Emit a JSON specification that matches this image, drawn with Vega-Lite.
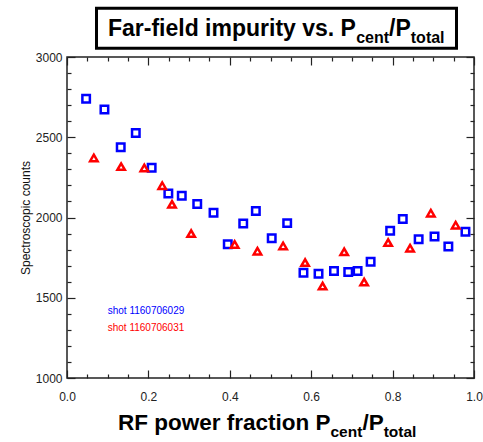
{
  "$schema": "https://vega.github.io/schema/vega-lite/v6.json",
  "width": 407,
  "height": 321,
  "autosize": {"type": "none"},
  "padding": {"left": 67, "top": 57, "right": 9, "bottom": 64},
  "background": "white",
  "config": {
    "font": "Liberation Sans",
    "view": {"stroke": "#222", "strokeWidth": 1.5},
    "axis": {"grid": false, "domain": false, "tickColor": "#222", "tickWidth": 1.2, "labelColor": "#222", "labelFontSize": 12, "labelFont": "Liberation Sans"}
  },
  "resolve": {"axis": {"x": "independent", "y": "independent"}},
  "layer": [
    {
      "data": {"values": [{"x": 0.0725, "x2": 0.957, "y": 3054, "y2": 3304}]},
      "mark": {"type": "rect", "fill": "white", "stroke": "black", "strokeWidth": 3, "clip": false},
      "encoding": {
        "x": {"field": "x", "type": "quantitative", "scale": {"domain": [0, 1], "nice": false, "zero": false},
          "axis": {"orient": "bottom", "values": [0, 0.2, 0.4, 0.6, 0.8, 1.0], "format": ".1f", "ticks": false, "labelPadding": 13, "title": null, "labelFlush": false}},
        "x2": {"field": "x2"},
        "y": {"field": "y", "type": "quantitative", "scale": {"domain": [1000, 3000], "nice": false, "zero": false},
          "axis": {"orient": "left", "values": [1000, 1500, 2000, 2500, 3000], "format": "d", "ticks": false, "labelPadding": 5, "labelFlush": false,
            "title": "Spectroscopic counts", "titleFontSize": 12, "titleFontWeight": "normal", "titleColor": "#111", "titleX": -35, "titleY": 160.5}},
        "y2": {"field": "y2"}
      }
    },
    {
      "data": {"values": [
        {"x": 0.1007, "y": 3129, "t": "Far-field impurity vs. P"},
        {"x": 0.7914, "y": 3129, "t": "/P"}
      ]},
      "mark": {"type": "text", "fontSize": 23, "fontWeight": "bold", "align": "left", "baseline": "alphabetic", "color": "black", "clip": false},
      "encoding": {
        "x": {"field": "x", "type": "quantitative", "scale": {"domain": [0, 1], "nice": false, "zero": false},
          "axis": {"orient": "bottom", "values": [0, 0.2, 0.4, 0.6, 0.8, 1.0], "labels": false, "tickSize": -8, "title": null}},
        "y": {"field": "y", "type": "quantitative", "scale": {"domain": [1000, 3000], "nice": false, "zero": false},
          "axis": {"orient": "left", "values": [1000, 1500, 2000, 2500, 3000], "labels": false, "tickSize": -8, "title": null}},
        "text": {"field": "t"}
      }
    },
    {
      "data": {"values": [
        {"x": 0.7106, "y": 3089, "t": "cent"},
        {"x": 0.8447, "y": 3089, "t": "total"}
      ]},
      "mark": {"type": "text", "fontSize": 16, "fontWeight": "bold", "align": "left", "baseline": "alphabetic", "color": "black", "clip": false},
      "encoding": {
        "x": {"field": "x", "type": "quantitative", "scale": {"domain": [0, 1], "nice": false, "zero": false},
          "axis": {"orient": "bottom", "values": [0.05, 0.1, 0.15, 0.25, 0.3, 0.35, 0.45, 0.5, 0.55, 0.65, 0.7, 0.75, 0.85, 0.9, 0.95], "labels": false, "tickSize": -4, "title": null}},
        "y": {"field": "y", "type": "quantitative", "scale": {"domain": [1000, 3000], "nice": false, "zero": false},
          "axis": {"orient": "left", "values": [1100, 1200, 1300, 1400, 1600, 1700, 1800, 1900, 2100, 2200, 2300, 2400, 2600, 2700, 2800, 2900], "labels": false, "tickSize": -4, "title": null}},
        "text": {"field": "t"}
      }
    },
    {
      "data": {"values": [
        {"x": 0.1253, "y": 673, "t": "RF power fraction P"},
        {"x": 0.7258, "y": 673, "t": "/P"}
      ]},
      "mark": {"type": "text", "fontSize": 22.5, "fontWeight": "bold", "align": "left", "baseline": "alphabetic", "color": "black", "clip": false},
      "encoding": {
        "x": {"field": "x", "type": "quantitative", "scale": {"domain": [0, 1], "nice": false, "zero": false},
          "axis": {"orient": "top", "values": [0, 0.2, 0.4, 0.6, 0.8, 1.0], "labels": false, "tickSize": -8, "title": null}},
        "y": {"field": "y", "type": "quantitative", "scale": {"domain": [1000, 3000], "nice": false, "zero": false},
          "axis": {"orient": "right", "values": [1000, 1500, 2000, 2500, 3000], "labels": false, "tickSize": -8, "title": null}},
        "text": {"field": "t"}
      }
    },
    {
      "data": {"values": [
        {"x": 0.6474, "y": 633, "t": "cent"},
        {"x": 0.7781, "y": 633, "t": "total"}
      ]},
      "mark": {"type": "text", "fontSize": 15.5, "fontWeight": "bold", "align": "left", "baseline": "alphabetic", "color": "black", "clip": false},
      "encoding": {
        "x": {"field": "x", "type": "quantitative", "scale": {"domain": [0, 1], "nice": false, "zero": false},
          "axis": {"orient": "top", "values": [0.05, 0.1, 0.15, 0.25, 0.3, 0.35, 0.45, 0.5, 0.55, 0.65, 0.7, 0.75, 0.85, 0.9, 0.95], "labels": false, "tickSize": -4, "title": null}},
        "y": {"field": "y", "type": "quantitative", "scale": {"domain": [1000, 3000], "nice": false, "zero": false},
          "axis": {"orient": "right", "values": [1100, 1200, 1300, 1400, 1600, 1700, 1800, 1900, 2100, 2200, 2300, 2400, 2600, 2700, 2800, 2900], "labels": false, "tickSize": -4, "title": null}},
        "text": {"field": "t"}
      }
    },
    {
      "data": {"values": [
        {"x": 0.1, "y": 1417, "series": "shot 1160706029"},
        {"x": 0.1, "y": 1309, "series": "shot 1160706031"}
      ]},
      "mark": {"type": "text", "fontSize": 10, "align": "left", "baseline": "middle"},
      "encoding": {
        "x": {"field": "x", "type": "quantitative", "scale": {"domain": [0, 1], "nice": false, "zero": false}, "axis": null},
        "y": {"field": "y", "type": "quantitative", "scale": {"domain": [1000, 3000], "nice": false, "zero": false}, "axis": null},
        "text": {"field": "series"},
        "color": {"field": "series", "type": "nominal", "scale": {"domain": ["shot 1160706029", "shot 1160706031"], "range": ["#0000ff", "#ff0000"]}, "legend": null}
      }
    },
    {
      "data": {"values": [
        {"x": 0.047, "y": 2740, "series": "shot 1160706029"},
        {"x": 0.092, "y": 2673, "series": "shot 1160706029"},
        {"x": 0.132, "y": 2438, "series": "shot 1160706029"},
        {"x": 0.169, "y": 2527, "series": "shot 1160706029"},
        {"x": 0.208, "y": 2310, "series": "shot 1160706029"},
        {"x": 0.249, "y": 2150, "series": "shot 1160706029"},
        {"x": 0.282, "y": 2136, "series": "shot 1160706029"},
        {"x": 0.320, "y": 2084, "series": "shot 1160706029"},
        {"x": 0.360, "y": 2029, "series": "shot 1160706029"},
        {"x": 0.395, "y": 1834, "series": "shot 1160706029"},
        {"x": 0.433, "y": 1963, "series": "shot 1160706029"},
        {"x": 0.464, "y": 2040, "series": "shot 1160706029"},
        {"x": 0.503, "y": 1871, "series": "shot 1160706029"},
        {"x": 0.541, "y": 1965, "series": "shot 1160706029"},
        {"x": 0.581, "y": 1656, "series": "shot 1160706029"},
        {"x": 0.618, "y": 1650, "series": "shot 1160706029"},
        {"x": 0.656, "y": 1667, "series": "shot 1160706029"},
        {"x": 0.691, "y": 1661, "series": "shot 1160706029"},
        {"x": 0.714, "y": 1667, "series": "shot 1160706029"},
        {"x": 0.746, "y": 1725, "series": "shot 1160706029"},
        {"x": 0.794, "y": 1917, "series": "shot 1160706029"},
        {"x": 0.825, "y": 1990, "series": "shot 1160706029"},
        {"x": 0.864, "y": 1865, "series": "shot 1160706029"},
        {"x": 0.903, "y": 1881, "series": "shot 1160706029"},
        {"x": 0.937, "y": 1819, "series": "shot 1160706029"},
        {"x": 0.979, "y": 1911, "series": "shot 1160706029"},
        {"x": 0.066, "y": 2371, "series": "shot 1160706031"},
        {"x": 0.133, "y": 2317, "series": "shot 1160706031"},
        {"x": 0.190, "y": 2309, "series": "shot 1160706031"},
        {"x": 0.234, "y": 2198, "series": "shot 1160706031"},
        {"x": 0.258, "y": 2082, "series": "shot 1160706031"},
        {"x": 0.305, "y": 1900, "series": "shot 1160706031"},
        {"x": 0.412, "y": 1832, "series": "shot 1160706031"},
        {"x": 0.468, "y": 1790, "series": "shot 1160706031"},
        {"x": 0.531, "y": 1823, "series": "shot 1160706031"},
        {"x": 0.585, "y": 1719, "series": "shot 1160706031"},
        {"x": 0.628, "y": 1573, "series": "shot 1160706031"},
        {"x": 0.681, "y": 1786, "series": "shot 1160706031"},
        {"x": 0.730, "y": 1598, "series": "shot 1160706031"},
        {"x": 0.789, "y": 1844, "series": "shot 1160706031"},
        {"x": 0.843, "y": 1809, "series": "shot 1160706031"},
        {"x": 0.894, "y": 2027, "series": "shot 1160706031"},
        {"x": 0.955, "y": 1952, "series": "shot 1160706031"}
      ]},
      "mark": {"type": "point", "filled": false, "size": 56, "strokeWidth": 2.5, "opacity": 1},
      "encoding": {
        "x": {"field": "x", "type": "quantitative", "scale": {"domain": [0, 1], "nice": false, "zero": false}, "axis": null},
        "y": {"field": "y", "type": "quantitative", "scale": {"domain": [1000, 3000], "nice": false, "zero": false}, "axis": null},
        "color": {"field": "series", "type": "nominal", "scale": {"domain": ["shot 1160706029", "shot 1160706031"], "range": ["#0000ff", "#ff0000"]}, "legend": null},
        "shape": {"field": "series", "type": "nominal", "scale": {"domain": ["shot 1160706029", "shot 1160706031"], "range": ["square", "triangle-up"]}, "legend": null}
      }
    }
  ]
}
